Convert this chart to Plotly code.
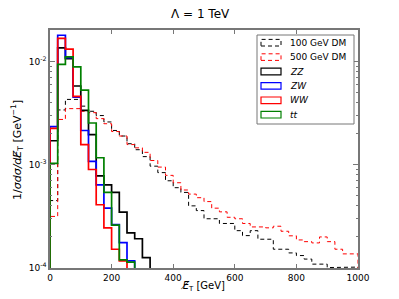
import plotly.graph_objects as go

# ---- data (bins of 25 GeV starting at 0) ----
BIN_WIDTH = 25
dm100 = [0.00045, 0.0034, 0.0043, 0.0043, 0.0037, 0.0033, 0.0030, 0.0026, 0.00215, 0.0019,
         0.0016, 0.0014, 0.0012, 0.00097, 0.00084, 0.00070, 0.00060, 0.00054, 0.00040, 0.00036,
         0.00030, 0.00030, 0.00027, 0.00027, 0.00023, 0.000206, 0.00023, 0.00019, 0.00019, 0.000152,
         0.000152, 0.000140, 0.000132, 0.000122, 0.000109, 0.000109, 0.000101, 0.000102, 0.000102, 0.000102]
dm500 = [0.000316, 0.00275, 0.0035, 0.0035, 0.0033, 0.0032, 0.0028, 0.0025, 0.0021, 0.0019,
         0.00157, 0.00146, 0.00132, 0.0011, 0.00095, 0.00079, 0.00067, 0.00057, 0.00052, 0.00048,
         0.00044, 0.00038, 0.00035, 0.00031, 0.00030, 0.00027, 0.00025, 0.00025, 0.000245, 0.000254,
         0.000227, 0.000205, 0.000187, 0.00018, 0.000175, 0.00020, 0.00018, 0.000152, 0.000137, 0.000137]
zz = [0.00171, 0.0136, 0.0107, 0.0058, 0.00336, 0.00196, 0.00078, 0.00064, 0.00054, 0.000348,
      0.000219, 0.000192, 0.000126]
zw = [0.00234, 0.0180, 0.0109, 0.00453, 0.00215, 0.00108, 0.00064, 0.00038, 0.000263, 0.000176,
      0.000117]
ww = [0.00225, 0.0168, 0.0132, 0.0046, 0.00157, 0.0009, 0.00041, 0.000245, 0.000152, 0.000117]
tt = [0.00103, 0.0094, 0.0111, 0.0089, 0.0053, 0.00254, 0.00117, 0.00054, 0.00026, 0.00012, 0.000114]

labels = ["100 GeV DM", "500 GeV DM", "<i>ZZ</i>", "<i>ZW</i>", "<i>WW</i>", "<i>tt</i>"]
x_ticks = [0, 200, 400, 600, 800, 1000]
y_ticks = [1e-4, 1e-3, 1e-2]
y_ticktext = ["10<sup>-4</sup>", "10<sup>-3</sup>", "10<sup>-2</sup>"]

BASELINE = 1e-6  # histogram steps drop to the axis floor

# page body has a default 8px margin; size the figure so it fits the 399x299 window
OFF = 8
W, H = 399 - 2 * OFF, 299 - 2 * OFF
ML, MT = 50 - OFF, 30 - OFF
MR = W - (358 - OFF)
MB = H - (268 - OFF)
PW, PH = W - ML - MR, H - MT - MB


def step(vals):
    xs = [0]
    ys = [BASELINE]
    for i, v in enumerate(vals):
        xs += [i * BIN_WIDTH, (i + 1) * BIN_WIDTH]
        ys += [v, v]
    xs.append(len(vals) * BIN_WIDTH)
    ys.append(BASELINE)
    return xs, ys


def px(x):  # window pixel -> paper x
    return (x - OFF - ML) / PW


def py(y):  # window pixel -> paper y
    return (H - MB - (y - OFF)) / PH


styles = [
    ("black", 1, "4px,3px"),
    ("red", 1, "4px,3px"),
    ("black", 1.7, "solid"),
    ("blue", 1.7, "solid"),
    ("red", 1.7, "solid"),
    ("green", 1.7, "solid"),
]
data = [dm100, dm500, zz, zw, ww, tt]

fig = go.Figure()
for name, vals, (col, w, dash) in zip(labels, data, styles):
    xs, ys = step(vals)
    fig.add_trace(go.Scatter(x=xs, y=ys, mode="lines", name=name, showlegend=False,
                             line=dict(color=col, width=w, dash=dash)))

# custom legend (hollow rectangle patches like matplotlib step histograms)
shapes = [dict(type="rect", xref="paper", yref="paper",
               x0=px(257), x1=px(354), y0=py(124), y1=py(35),
               line=dict(color="#777", width=1), fillcolor="white", layer="above")]
annotations = []
for i, (name, (col, w, dash)) in enumerate(zip(labels, styles)):
    cy = 42.7 + i * 14.4
    shapes.append(dict(type="rect", xref="paper", yref="paper",
                       x0=px(261), x1=px(281), y0=py(cy + 3.3), y1=py(cy - 3.3),
                       line=dict(color=col, width=1.2 if dash == "solid" else 1, dash=dash),
                       layer="above"))
    annotations.append(dict(xref="paper", yref="paper", x=px(288), y=py(cy),
                            xanchor="left", yanchor="middle", text=name, showarrow=False,
                            font=dict(family="DejaVu Sans", size=9, color="black")))

annotations.append(dict(xref="paper", yref="paper", x=px(202), y=py(286),
                        xanchor="center", yanchor="middle", showarrow=False,
                        text="<i>E\u0338</i><sub>T</sub> [GeV]",
                        font=dict(family="DejaVu Sans", size=10, color="black")))
annotations.append(dict(xref="paper", yref="paper", x=px(17), y=py(150),
                        xanchor="center", yanchor="middle", showarrow=False, textangle=-90,
                        text="1/<i>σdσ/dE\u0338</i><sub>T</sub> [GeV<sup>−1</sup>]",
                        font=dict(family="DejaVu Sans", size=11, color="black")))
annotations.append(dict(xref="paper", yref="paper", x=px(200), y=py(14),
                        xanchor="center", yanchor="middle", showarrow=False,
                        text="Λ = 1 TeV",
                        font=dict(family="DejaVu Sans", size=12, color="black")))

axis_common = dict(showgrid=False, zeroline=False, showline=True, linecolor="#777",
                   linewidth=1.5, mirror="ticks", ticks="inside", tickcolor="#777",
                   automargin=False,
                   tickfont=dict(family="DejaVu Sans", size=9, color="black"))

fig.update_xaxes(range=[0, 1000], tickvals=x_ticks, ticklen=4, **axis_common)
fig.update_yaxes(type="log", range=[-4, -1.694], tickvals=y_ticks, ticktext=y_ticktext,
                 ticklen=5,
                 minor=dict(ticks="inside", ticklen=2, tickcolor="#777", dtick="D1"),
                 **axis_common)

fig.update_layout(
    width=W, height=H,
    margin=dict(l=ML, r=MR, t=MT, b=MB),
    paper_bgcolor="white", plot_bgcolor="white",
    showlegend=False,
    shapes=shapes,
    annotations=annotations,
)

fig.write_html("out.html")
